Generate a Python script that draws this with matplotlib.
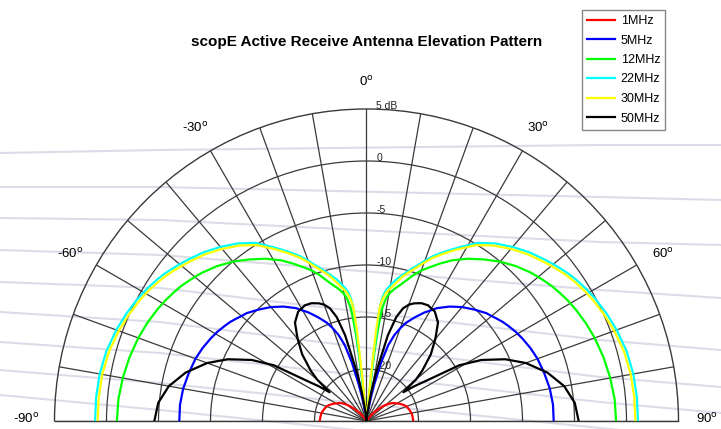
import numpy as np
import matplotlib.pyplot as plt
from matplotlib.lines import Line2D
from matplotlib.transforms import ScaledTranslation

plt.rcParams['font.family'] = ['Liberation Sans', 'DejaVu Sans']

# elevation angle from zenith (deg), one side; pattern is symmetric
elev = [0, 5, 5.5, 6, 6.5, 7, 7.5, 8, 9, 10, 11, 12, 14, 16, 18, 20, 22, 25, 28, 32,
        36, 40, 44, 48, 50, 52, 54, 56, 59, 62, 66, 70, 75, 80, 85, 90]

# gain in dB
g_1mhz = [-25, -25, -25, -25, -25, -25, -25, -25, -25, -25, -25, -25, -25, -25, -25, -25,
          -25, -25, -25, -25, -24.6, -24.0, -23.5, -22.9, -22.6, -22.35, -22.1, -21.9,
          -21.7, -21.45, -21.15, -20.9, -20.75, -20.6, -20.55, -20.5]
g_5mhz = [-25, -25, -25, -25, -25, -25, -25, -25, -24.2, -23.3, -22.4, -21.4, -19.2, -17.4,
          -16.3, -15.5, -14.8, -14.0, -13.2, -12.2, -11.4, -10.7, -10.1, -9.5, -9.3, -9.05,
          -8.8, -8.6, -8.3, -8.05, -7.75, -7.5, -7.3, -7.1, -7.0, -7.0]
g_12mhz = [-25, -25, -25, -21.0, -18.5, -16.5, -15.0, -14.0, -13.1, -12.6, -12.3, -12.0,
           -11.5, -10.9, -10.2, -9.6, -9.1, -8.3, -7.5, -6.6, -5.8, -5.0, -4.3, -3.7, -3.45,
           -3.2, -2.95, -2.75, -2.45, -2.2, -1.9, -1.65, -1.4, -1.2, -1.05, -1.0]
g_22mhz = [-25, -25, -25, -19.5, -14.5, -13.4, -12.9, -12.55, -12.1, -11.75, -11.4, -11.05,
           -10.5, -9.9, -9.3, -8.6, -7.9, -7.0, -6.1, -4.8, -3.9, -3.15, -2.45, -1.85, -1.55,
           -1.25, -0.95, -0.7, -0.35, -0.05, 0.3, 0.6, 0.9, 1.05, 1.1, 1.1]
g_30mhz = [-25, -25, -21.0, -16.5, -14.3, -13.6, -13.2, -12.9, -12.4, -12.1, -11.8, -11.45,
           -10.7, -10.1, -9.5, -8.8, -8.1, -7.2, -6.3, -5.05, -4.15, -3.4, -2.7, -2.1, -1.8,
           -1.5, -1.2, -0.95, -0.6, -0.3, 0.05, 0.35, 0.65, 0.8, 0.85, 0.85]
g_50mhz = [-25, -25, -25, -25, -25, -24.5, -24.0, -23.5, -22.5, -21.5, -20.5, -19.5, -16.5,
           -14.6, -13.6, -13.1, -12.8, -12.5, -12.4, -12.6, -13.3, -14.7, -16.1, -17.8,
           -18.8, -20.5, -19.3, -18.1, -14.6, -12.5, -10.4, -8.7, -7.0, -5.7, -4.9, -4.6]

labels = ['1MHz', '5MHz', '12MHz', '22MHz', '30MHz', '50MHz']
colors = ['#ff0000', '#0000ff', '#00ff00', '#00ffff', '#ffff00', '#000000']
gains = [g_1mhz, g_5mhz, g_12mhz, g_22mhz, g_30mhz, g_50mhz]

rings = [-20, -15, -10, -5, 0, 5]
ring_labels = ['-20', '-15', '-10', '-5', '0', '5 dB']
ang_ticks = [-90, -60, -30, 0, 30, 60, 90]

# faint scan streaks behind the chart (pixel y at x = 0, 160, 600, 721)
streak_x = [0, 160, 600, 721]
streak_y = [[153, 150, 145, 145], [187, 187, 197, 200], [218, 220, 242, 245],
            [250, 255, 290, 298], [282, 288, 340, 350], [312, 322, 377, 387],
            [342, 353, 402, 413], [370, 383, 428, 440], [395, 410, 455, 466]]

W, H = 721, 429
fig = plt.figure(figsize=(W / 100, H / 100), dpi=100)

for ys in streak_y:
    fig.add_artist(Line2D(np.array(streak_x) / W, 1 - np.array(ys) / H,
                          transform=fig.transFigure, color='#dcdce8', lw=1.5, zorder=0))

# half disc of radius R centred at (cx, cy) px; polar box is kept square
R = 312
cx, cy = 366.5, 8
ax = fig.add_axes([(cx - R) / W, (cy - R / 2) / H, 2 * R / W, 2 * R / H], projection='polar')
ax.patch.set_alpha(0)
ax.set_theta_zero_location('N')
ax.set_theta_direction(-1)
ax.set_thetamin(-90)
ax.set_thetamax(90)
ax.set_rlim(-25, 5)
ax.set_rgrids(rings[:-1], labels=[''] * (len(rings) - 1))
ax.set_thetagrids(range(-90, 91, 10), labels=[''] * 19)
ax.grid(True, color='#3a3a3a', lw=0.9)
for s in ax.spines.values():
    s.set_color('#3a3a3a')
    s.set_linewidth(1.0)

e = np.array(elev, dtype=float)
theta = np.deg2rad(np.concatenate([-e[::-1], e[1:]]))
for g, c, lab in zip(gains, colors, labels):
    g = np.array(g, dtype=float)
    r = np.concatenate([g[::-1], g[1:]])
    ax.plot(theta, r, color=c, lw=1.6, label=lab, zorder=3)

off = ax.transData + ScaledTranslation(10 / 100, -2 / 100, fig.dpi_scale_trans)
for v, t in zip(rings, ring_labels):
    ax.text(0, v, t, transform=off, ha='left', va='bottom', fontsize=7.5,
            color='#222222', zorder=1.6)

for a in ang_ticks:
    dy = 2 if abs(a) == 90 else -4
    tr = ax.transData + ScaledTranslation(0, dy / 100, fig.dpi_scale_trans)
    rr = 7.75 if abs(a) == 90 else 7.95
    ax.text(np.deg2rad(a), rr, str(a) + r'$^\mathrm{o}$', transform=tr,
            ha='center', va='center', fontsize=9.5, clip_on=False)

fig.text(367 / W, 1 - 42 / H, 'scopE Active Receive Antenna Elevation Pattern',
         ha='center', va='center', fontsize=11, fontweight='bold')

leg = ax.legend(loc='upper left', bbox_to_anchor=(582 / W, 1 - 10 / H),
                bbox_transform=fig.transFigure, borderaxespad=0, fontsize=9,
                handlelength=2.2, handletextpad=0.5, labelspacing=0.6,
                borderpad=0.4, fancybox=False, framealpha=1)
leg.get_frame().set_edgecolor('#888888')
leg.get_frame().set_linewidth(1.0)

fig.savefig('out.png', dpi=100)
